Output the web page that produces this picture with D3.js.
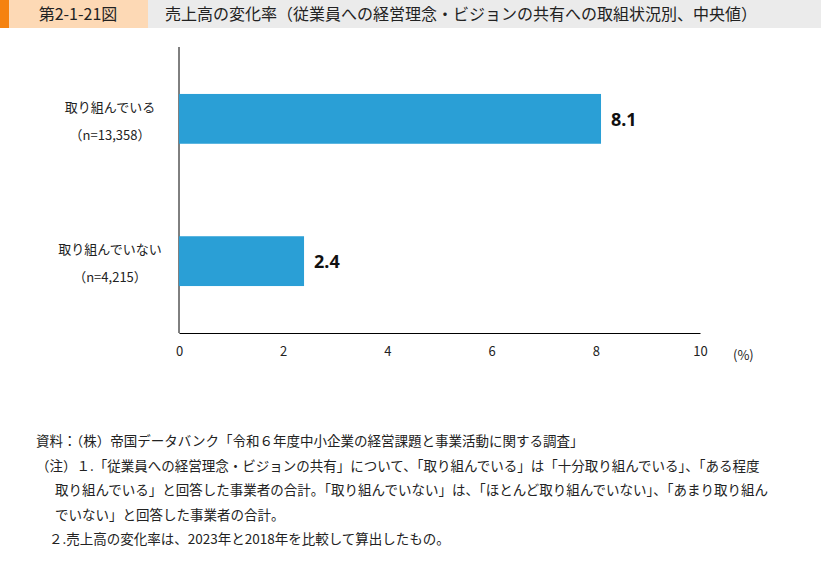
<!DOCTYPE html>
<html><head><meta charset="utf-8">
<script src="https://cdn.jsdelivr.net/npm/d3@7"></script>
<style>body{margin:0;background:#fff;font-family:"Noto Sans CJK JP","Noto Sans",sans-serif;}</style>
</head><body><div id="chart"></div>
<script>
var categories = ["取り組んでいる", "取り組んでいない"];
var samples = ["（n=13,358）", "（n=4,215）"];
var values = [8.1, 2.4];
var ticks = [0, 2, 4, 6, 8, 10];
var notes = [
	"資料：（株）帝国データバンク「令和６年度中小企業の経営課題と事業活動に関する調査」",
	"（注）１.「従業員への経営理念・ビジョンの共有」について、「取り組んでいる」は「十分取り組んでいる」、「ある程度",
	"取り組んでいる」と回答した事業者の合計。「取り組んでいない」は、「ほとんど取り組んでいない」、「あまり取り組ん",
	"でいない」と回答した事業者の合計。",
	"２.売上高の変化率は、2023年と2018年を比較して算出したもの。"
];
var noteX = [36, 36, 55, 55, 49];

var svg = d3.select("#chart").append("svg")
	.attr("width", 821)
	.attr("height", 565);

// header
svg.append("rect").attr("x", 0).attr("y", 0).attr("width", 821).attr("height", 28).attr("fill", "#ebebeb");
svg.append("rect").attr("x", 0).attr("y", 0).attr("width", 148).attr("height", 28).attr("fill", "#fdd9b5");
svg.append("rect").attr("x", 0).attr("y", 0).attr("width", 9).attr("height", 28).attr("fill", "#f5820f");
svg.append("text").attr("x", 78).attr("y", 20).attr("text-anchor", "middle")
	.attr("font-size", 16).attr("fill", "#222").text("第2-1-21図");
svg.append("text").attr("x", 165).attr("y", 20)
	.attr("font-size", 16).attr("fill", "#222")
	.text("売上高の変化率（従業員への経営理念・ビジョンの共有への取組状況別、中央値）");

var x = d3.scaleLinear().domain([0, 10]).range([179, 700]);
var y = d3.scaleBand().domain(categories).range([47, 333]).paddingInner(0.65).paddingOuter(0.33);

svg.append("g")
	.attr("transform", "translate(0,333)")
	.call(d3.axisBottom(x).tickValues(ticks).tickSize(0).tickPadding(14))
	.call(function(g) {
		g.select(".domain").attr("stroke", "#000");
		g.selectAll("text").attr("font-size", 13).attr("fill", "#222").attr("font-family", "Noto Sans CJK JP");
	});
svg.append("line").attr("x1", 179).attr("x2", 179).attr("y1", 47).attr("y2", 333).attr("stroke", "#000");
svg.append("text").attr("x", 733).attr("y", 360).attr("font-size", 13).attr("fill", "#222").text("(%)");

svg.selectAll("rect.bar").data(values).enter().append("rect")
	.attr("class", "bar")
	.attr("x", x(0))
	.attr("y", function(d, i) { return y(categories[i]); })
	.attr("width", function(d) { return x(d) - x(0); })
	.attr("height", y.bandwidth())
	.attr("fill", "#2a9fd6");

svg.selectAll("text.val").data(values).enter().append("text")
	.attr("x", function(d) { return x(d) + 10; })
	.attr("y", function(d, i) { return y(categories[i]) + y.bandwidth() / 2 + 7; })
	.attr("font-size", 18).attr("font-weight", "bold").attr("fill", "#111")
	.attr("font-family", "Noto Sans")
	.text(function(d) { return d.toFixed(1); });

categories.forEach(function(c, i) {
	var cy = y(c) + y.bandwidth() / 2;
	svg.append("text").attr("x", 110).attr("y", cy - 7).attr("text-anchor", "middle")
		.attr("font-size", 13).attr("fill", "#222").text(c);
	svg.append("text").attr("x", 110).attr("y", cy + 21).attr("text-anchor", "middle")
		.attr("font-size", 13).attr("fill", "#222").text(samples[i]);
});

notes.forEach(function(n, i) {
	svg.append("text").attr("x", noteX[i]).attr("y", 446 + i * 24.5)
		.attr("font-size", 13.5).attr("fill", "#222").text(n);
});
</script></body></html>
